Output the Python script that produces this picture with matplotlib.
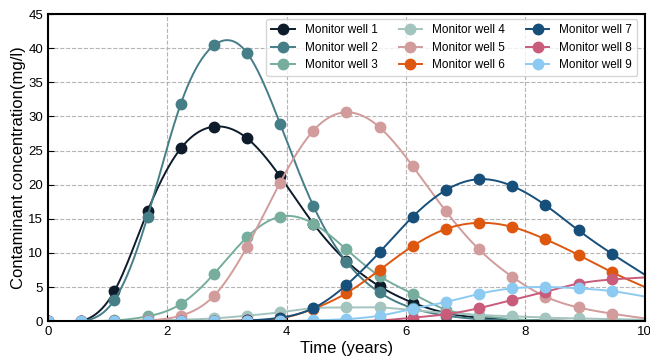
import numpy as np
import matplotlib
matplotlib.use("Agg")
import matplotlib.pyplot as plt

plt.rcParams['font.family'] = ['Liberation Sans', 'DejaVu Sans']

# sampling times (years); last value at t=10 is the curve end, no marker there
t = np.linspace(0, 10, 19)

labels = ["Monitor well 1", "Monitor well 2", "Monitor well 3",
          "Monitor well 4", "Monitor well 5", "Monitor well 6",
          "Monitor well 7", "Monitor well 8", "Monitor well 9"]
colors = ["#0d1b2a", "#467e88", "#76ad9d",
          "#a3c4bf", "#d19c9b", "#de570f",
          "#174f7b", "#c95b7b", "#8ccaf2"]

well1 = [0, 0, 4.4, 16.1, 25.3, 28.5, 26.8, 21.2, 14.3, 8.8, 5.1, 2.7, 1.2, 0.5, 0.2, 0.1, 0, 0, 0]
well2 = [0, 0, 3.1, 15.3, 31.8, 40.4, 39.3, 28.9, 16.9, 8.7, 4.2, 1.9, 0.8, 0.3, 0.1, 0, 0, 0, 0]
well3 = [0, 0, 0.1, 0.7, 2.5, 6.9, 12.3, 15.3, 14.3, 10.5, 6.6, 4.0, 1.7, 0.8, 0.3, 0.1, 0, 0, 0]
well4 = [0, 0, 0, 0.1, 0.2, 0.4, 0.8, 1.3, 1.9, 2.0, 2.0, 1.6, 1.2, 0.9, 0.7, 0.5, 0.4, 0.3, 0.2]
well5 = [0, 0, 0, 0.1, 0.8, 3.7, 10.9, 20.3, 27.9, 30.6, 28.4, 22.7, 16.1, 10.5, 6.5, 3.6, 2.0, 1.1, 0.4]
well6 = [0, 0, 0, 0, 0, 0, 0.1, 0.4, 1.8, 4.1, 7.5, 11.0, 13.5, 14.4, 13.8, 12.0, 9.7, 7.2, 5.0]
well7 = [0, 0, 0, 0, 0, 0, 0.1, 0.5, 1.9, 5.3, 10.1, 15.3, 19.2, 20.8, 19.8, 17.0, 13.3, 9.9, 6.8]
well8 = [0, 0, 0, 0, 0, 0, 0, 0, 0, 0, 0.1, 0.5, 1.0, 1.9, 3.1, 4.3, 5.5, 6.1, 6.4]
well9 = [0, 0, 0, 0, 0, 0, 0, 0, 0.1, 0.3, 0.8, 1.8, 2.8, 4.0, 4.8, 5.0, 4.8, 4.4, 3.6]
wells = [well1, well2, well3, well4, well5, well6, well7, well8, well9]


def cubic_spline(x, y, xs):
    # natural cubic spline through (x, y), evaluated at xs
    x = np.asarray(x, float)
    y = np.asarray(y, float)
    n = len(x)
    h = np.diff(x)
    A = np.zeros((n, n))
    b = np.zeros(n)
    A[0, 0] = 1
    A[-1, -1] = 1
    for i in range(1, n - 1):
        A[i, i - 1] = h[i - 1]
        A[i, i] = 2 * (h[i - 1] + h[i])
        A[i, i + 1] = h[i]
        b[i] = 3 * ((y[i + 1] - y[i]) / h[i] - (y[i] - y[i - 1]) / h[i - 1])
    c = np.linalg.solve(A, b)
    idx = np.clip(np.searchsorted(x, xs) - 1, 0, n - 2)
    dx = xs - x[idx]
    bb = (y[idx + 1] - y[idx]) / h[idx] - h[idx] * (2 * c[idx] + c[idx + 1]) / 3
    d = (c[idx + 1] - c[idx]) / (3 * h[idx])
    return y[idx] + bb * dx + c[idx] * dx ** 2 + d * dx ** 3


fig = plt.figure(figsize=(6.5, 3.6), dpi=100)
ax = fig.add_axes([0.074, 0.108, 0.918, 0.853])

ts = np.linspace(0, 10, 400)
for vals, lab, col in zip(wells, labels, colors):
    ax.plot(ts, cubic_spline(t, vals, ts), color=col, lw=1.4)
    ax.plot(t[:-1], vals[:-1], 'o', color=col, ms=7.5)
    # legend handle
    ax.plot([], [], '-o', color=col, ms=7.5, lw=1.4, label=lab)

ax.set_xlim(0, 10)
ax.set_ylim(0, 45)
ax.set_xticks([0, 2, 4, 6, 8, 10])
ax.set_yticks(np.arange(0, 46, 5))
ax.grid(True, ls='--', color='#b4b4b4', lw=0.8)
ax.set_axisbelow(True)
ax.tick_params(direction='in', labelsize=9.5, length=4)
for s in ax.spines.values():
    s.set_linewidth(1.5)
ax.set_xlabel("Time (years)", fontsize=12, labelpad=2)
ax.set_ylabel("Contaminant concentration(mg/l)", fontsize=12, labelpad=2)

ax.legend(ncol=3, fontsize=8.5, loc='upper right', frameon=True,
          handlelength=2.0, columnspacing=1.8, labelspacing=0.45,
          borderpad=0.45, handletextpad=0.8, borderaxespad=0.3,
          bbox_to_anchor=(0.993, 0.995))

fig.savefig("out.png", dpi=100)
